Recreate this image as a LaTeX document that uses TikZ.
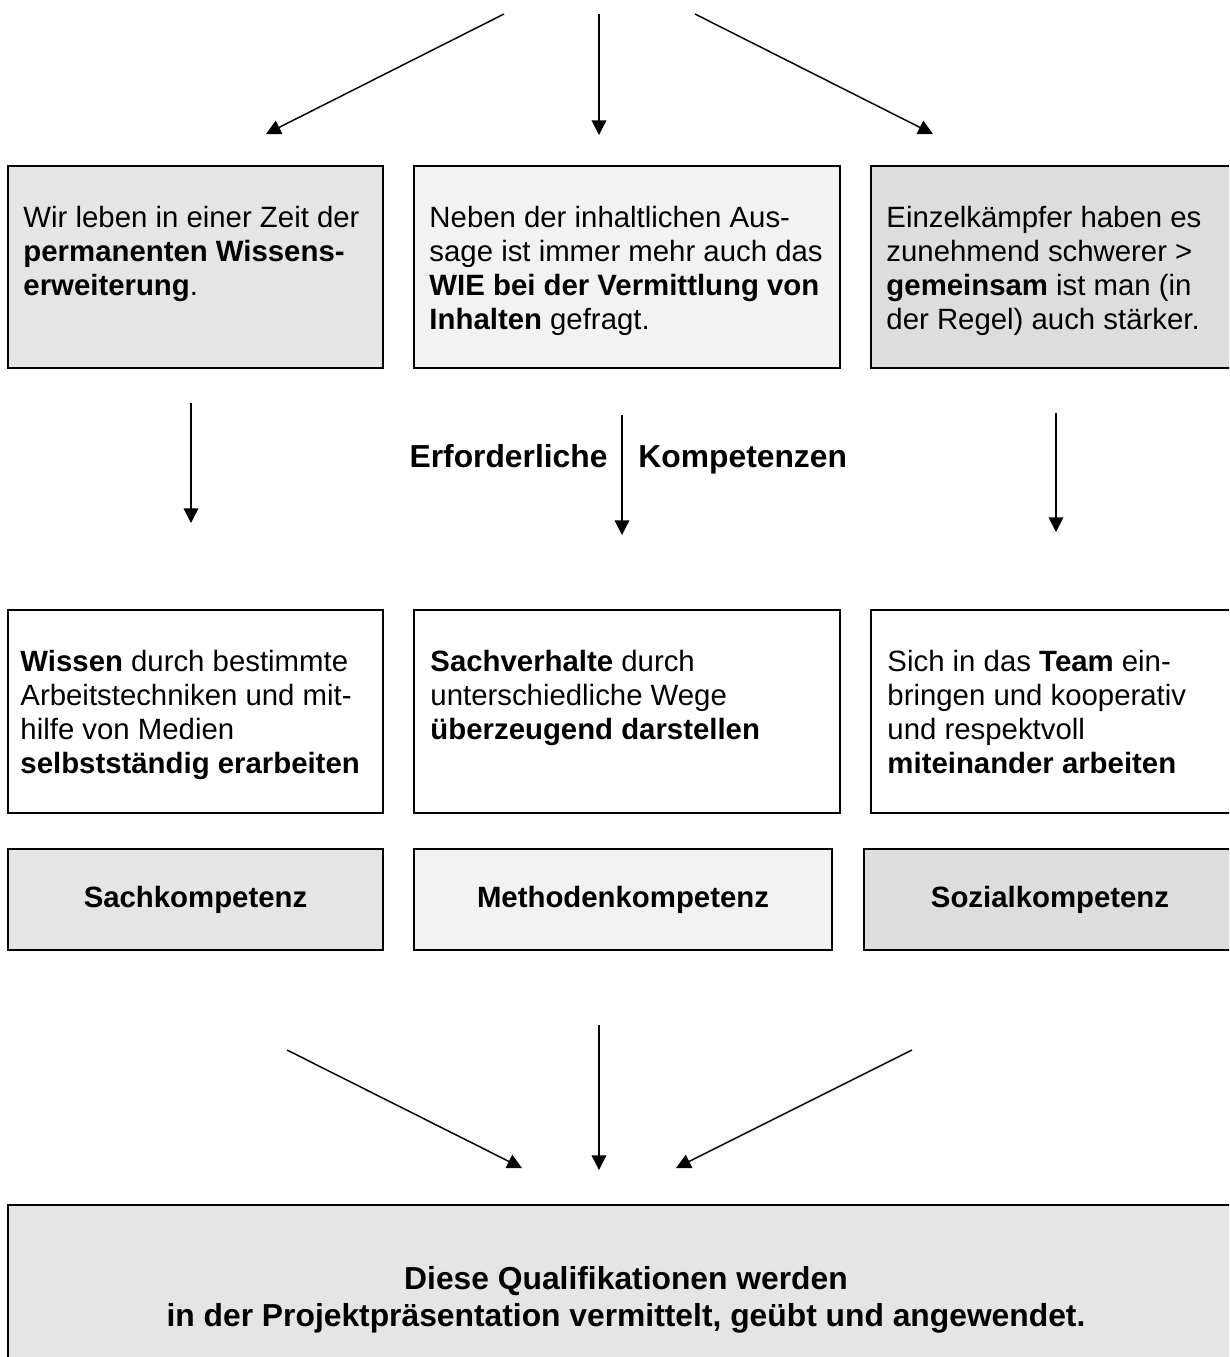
\documentclass[tikz,border=0pt]{standalone}
\usepackage{fontspec}
\setmainfont{Liberation Sans}
\usepackage{tikz}
\usetikzlibrary{arrows.meta, positioning, fit}

\definecolor{grauA}{HTML}{E5E5E5}
\definecolor{grauB}{HTML}{F2F2F2}
\definecolor{grauC}{HTML}{DDDDDD}

\begin{document}
\begin{tikzpicture}[x=0.4088pt, y=-0.4088pt,
    kasten/.style={draw, line width=0.9pt, inner sep=0pt},
    txt/.style={anchor=north west, inner sep=0pt, align=left, font=\fontsize{12}{13.8}\selectfont},
    titel/.style={inner sep=0pt, font=\fontsize{12}{13.8}\selectfont\bfseries},
    pfeil/.style={-{Triangle[length=6pt,width=6pt]}, line width=0.6pt}]
  \useasboundingbox (0,0) rectangle (1229,1357);
  \clip (0,0) rectangle (1229,1357);

  % obere Reihe
  \node[kasten, fill=grauA, fit={(8,166) (383,368)}] (zeit) {};
  \node[kasten, fill=grauB, fit={(414,166) (840,368)}] (wie) {};
  \node[kasten, fill=grauC, fit={(871,166) (1240,368)}] (team) {};
  \node[txt] (zeittxt) at (23,206) {Wir leben in einer Zeit der\\\textbf{permanenten Wissens-}\\\textbf{erweiterung}.};
  \node[txt] (wietxt) at (429,206) {Neben der inhaltlichen Aus-\\sage ist immer mehr auch das\\\textbf{WIE bei der Vermittlung von}\\\textbf{Inhalten} gefragt.};
  \node[txt] (teamtxt) at (886,206) {Einzelkämpfer haben es\\zunehmend schwerer >\\\textbf{gemeinsam} ist man (in\\der Regel) auch stärker.};

  % zweite Reihe
  \node[kasten, fit={(8,610) (383,813)}] (wissen) {};
  \node[kasten, fit={(414,610) (840,813)}] (sachv) {};
  \node[kasten, fit={(871,610) (1240,813)}] (koop) {};
  \node[txt] (wissentxt) at (20,650) {\textbf{Wissen} durch bestimmte\\Arbeitstechniken und mit-\\hilfe von Medien\\\textbf{selbstständig erarbeiten}};
  \node[txt] (sachvtxt) at (430,650) {\textbf{Sachverhalte} durch\\unterschiedliche Wege\\\textbf{überzeugend darstellen}};
  \node[txt] (kooptxt) at (887,650) {Sich in das \textbf{Team} ein-\\bringen und kooperativ\\und respektvoll\\\textbf{miteinander arbeiten}};

  % Kompetenzen
  \node[kasten, fill=grauA, fit={(8,849) (383,950)}, label={[titel]center:Sachkompetenz}] (sach) {};
  \node[kasten, fill=grauB, fit={(414,849) (832,950)}, label={[titel]center:Methodenkompetenz}] (meth) {};
  \node[kasten, fill=grauC, fit={(864,849) (1236,950)}, label={[titel]center:Sozialkompetenz}] (sozial) {};

  \node[kasten, fill=grauA, fit={(8,1205) (1244,1395)}, label={[inner sep=0pt, align=center,
    font=\fontsize{13}{15.2}\selectfont\bfseries]center:Diese Qualifikationen werden\\in der Projektpräsentation vermittelt, geübt und angewendet.}] (quali) {};

  \node[inner sep=0pt, anchor=base east, font=\fontsize{13}{15}\selectfont\bfseries] (erf) at (608,467) {Erforderliche};
  \node[inner sep=0pt, anchor=base west, font=\fontsize{13}{15}\selectfont\bfseries] (komp) at (638,467) {Kompetenzen};

  % Pfeile
  \coordinate (a1) at (504,14);  \coordinate (a1z) at (266,134);
  \coordinate (a2) at (599,14);  \coordinate (a2z) at (599,135);
  \coordinate (a3) at (695,14);  \coordinate (a3z) at (933,134);
  \coordinate (b1) at (191,403); \coordinate (b1z) at (191,523);
  \coordinate (b2) at (622,415); \coordinate (b2z) at (622,535);
  \coordinate (b3) at (1056,413); \coordinate (b3z) at (1056,532);
  \coordinate (c1) at (287,1050); \coordinate (c1z) at (522,1168);
  \coordinate (c2) at (599,1025); \coordinate (c2z) at (599,1170);
  \coordinate (c3) at (912,1050); \coordinate (c3z) at (676,1168);
  \foreach \s in {a1,a2,a3,b1,b2,b3,c1,c2,c3}
    \draw[pfeil] (\s) -- (\s z);
\end{tikzpicture}
\end{document}
